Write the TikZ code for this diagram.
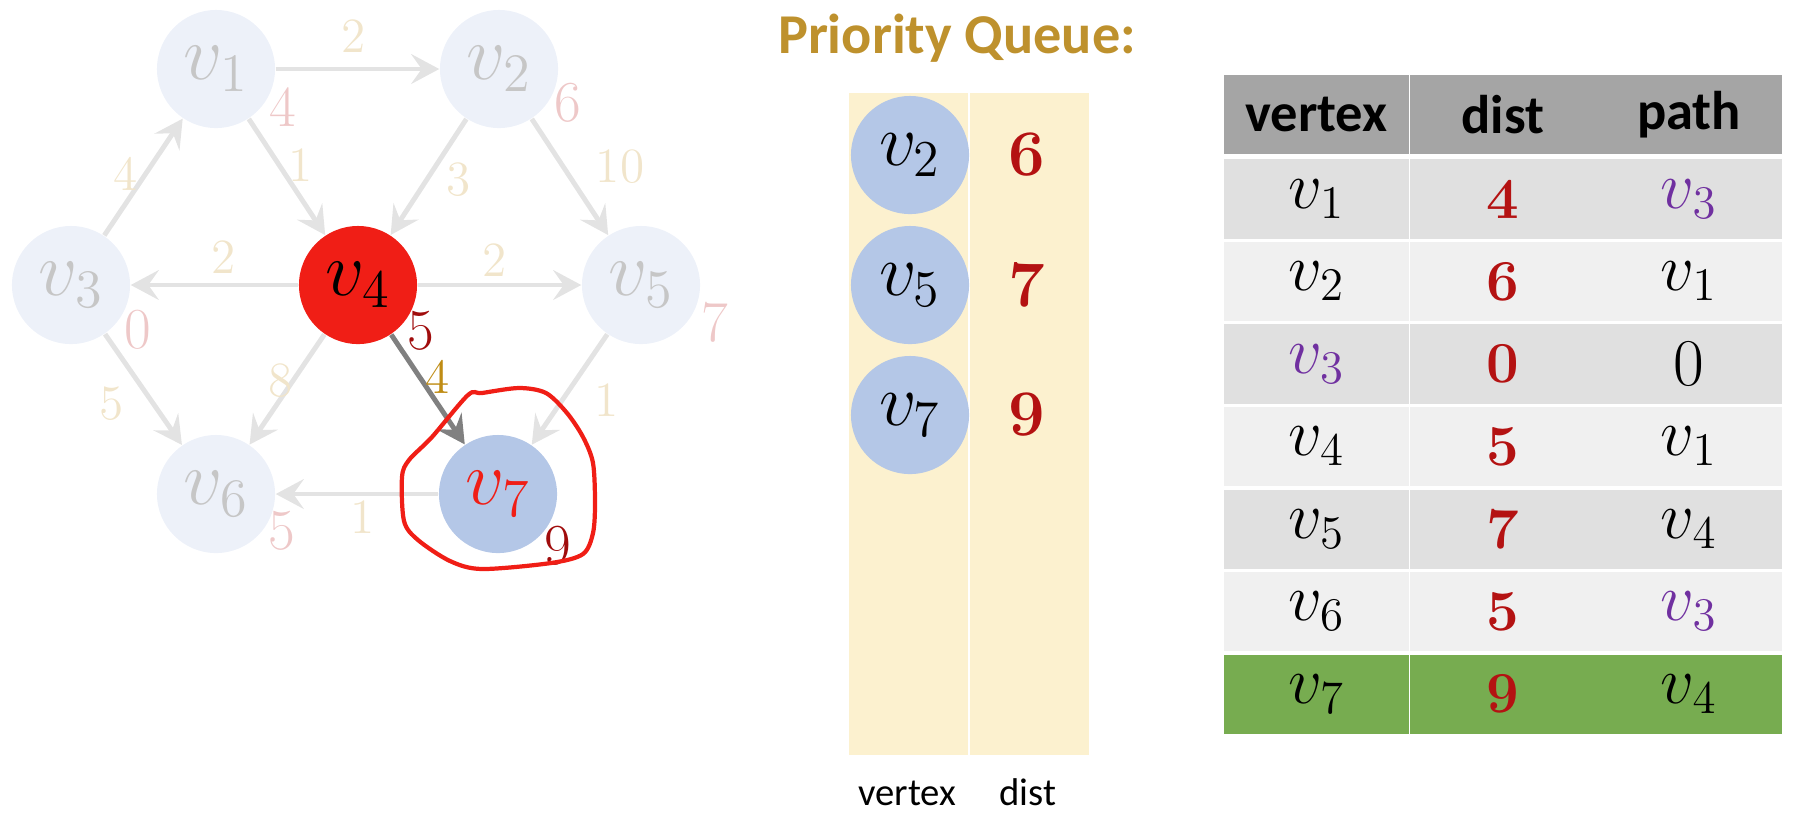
\RequirePackage{fix-cm}
\documentclass[tikz,border=0pt]{standalone}
\usepackage{fontspec}
\setsansfont{Carlito}
\usetikzlibrary{arrows.meta}

\definecolor{nodefade}{RGB}{237,241,249}
\definecolor{textfade}{RGB}{198,198,198}
\definecolor{edgefade}{RGB}{227,227,227}
\definecolor{weightfade}{RGB}{241,229,203}
\definecolor{distfade}{RGB}{238,200,200}
\definecolor{visitred}{RGB}{240,30,22}
\definecolor{queueblue}{RGB}{180,199,231}
\definecolor{distred}{RGB}{180,18,18}
\definecolor{darkdist}{RGB}{160,12,12}
\definecolor{weightgold}{RGB}{191,140,20}
\definecolor{titlegold}{RGB}{190,145,45}
\definecolor{queuebg}{RGB}{252,241,207}
\definecolor{headgray}{RGB}{165,165,165}
\definecolor{rowdark}{RGB}{224,224,224}
\definecolor{rowlight}{RGB}{240,240,240}
\definecolor{rowgreen}{RGB}{119,172,80}
\definecolor{pathpurple}{RGB}{112,48,160}

\begin{document}
\begin{tikzpicture}[x=0.01cm,y=-0.01cm,
    vx/.style={circle,fill=nodefade,text=textfade,minimum size=1.18cm,inner sep=0pt,font=\fontsize{22}{26}\selectfont},
    edge/.style={draw=edgefade,line width=1.4pt,-{Stealth[length=8pt,width=8.5pt,inset=3pt]}},
    wt/.style={text=weightfade,font=\fontsize{14}{16}\selectfont},
    dst/.style={text=distfade,font=\fontsize{16.5}{18}\selectfont},
    qv/.style={circle,fill=queueblue,minimum size=1.18cm,inner sep=0pt,font=\fontsize{21}{24}\selectfont},
    qd/.style={text=distred,font=\fontsize{18.5}{20}\selectfont\bfseries},
    qlabel/.style={anchor=base,font=\sffamily\fontsize{11}{13}\selectfont},
    head/.style={fill=headgray,minimum width=1.85cm,minimum height=0.79cm,inner sep=0pt,font=\sffamily\bfseries\fontsize{15.5}{18}\selectfont},
    cell/.style={minimum width=1.85cm,minimum height=0.79cm,inner sep=0pt,font=\fontsize{19}{22}\selectfont},
    dcell/.style={cell,text=distred,font=\fontsize{16.5}{20}\selectfont\bfseries}
  ]
    \useasboundingbox (0,0) rectangle (1795,817);

    %the graph, all done but v4 and v7
    \node[vx] (v1) at (216,69) {$v_1$};
    \node[vx] (v2) at (499,69) {$v_2$};
    \node[vx] (v3) at (71,285) {$v_3$};
    \node[vx,fill=visitred,text=black] (v4) at (358,285) {$v_4$};
    \node[vx] (v5) at (641,285) {$v_5$};
    \node[vx] (v6) at (216,494) {$v_6$};
    \node[vx,fill=queueblue,text=visitred] (v7) at (498,494) {$v_7$};

    \draw[edge] (v1) -- (v2);
    \draw[edge] (v1) -- (v4);
    \draw[edge] (v2) -- (v4);
    \draw[edge] (v2) -- (v5);
    \draw[edge] (v3) -- (v1);
    \draw[edge] (v4) -- (v3);
    \draw[edge] (v4) -- (v5);
    \draw[edge] (v3) -- (v6);
    \draw[edge] (v4) -- (v6);
    \draw[edge] (v5) -- (v7);
    \draw[edge] (v7) -- (v6);
    \draw[edge,draw=gray] (v4) -- (v7);

    %edge weights
    \node[wt] (w12) at (354,36) {2};
    \node[wt] (w14) at (301,165) {1};
    \node[wt] (w24) at (459,180) {3};
    \node[wt] (w25) at (620,167) {10};
    \node[wt] (w31) at (126,174) {4};
    \node[wt] (w43) at (224,257) {2};
    \node[wt] (w45) at (495,260) {2};
    \node[wt] (w36) at (112,404) {5};
    \node[wt] (w46) at (281,381) {8};
    \node[wt,text=weightgold] (w47) at (438,377) {4};
    \node[wt] (w57) at (607,400) {1};
    \node[wt] (w76) at (363,517) {1};

    %distances
    \node[dst] (d1) at (283,107) {4};
    \node[dst] (d2) at (568,103) {6};
    \node[dst] (d3) at (138,330) {0};
    \node[dst,text=darkdist] (d4) at (421,331) {5};
    \node[dst] (d5) at (715,322) {7};
    \node[dst] (d6) at (282,531) {5};
    \node[dst,text=darkdist] (d7) at (558,546) {9};

    %red loop round v7
    \draw[visitred,line width=1.2pt] plot[smooth cycle] coordinates{(519,388) (546,393) (567,413) (583,437) (593,463) (595,503) (593,533) (583,554) (551,563) (482,569) (450,561) (418,540) (404,521) (402,477) (409,460) (432,437) (468,395) (482,393)};

    %priority queue
    \node[anchor=base,text=titlegold,font=\sffamily\bfseries\fontsize{16}{19}\selectfont] (pq) at (957,53) {Priority Queue:};
    \fill[queuebg] (849,93) rectangle (968,755);
    \fill[queuebg] (970,93) rectangle (1089,755);
    \node[qv] (q2) at (910,155) {$v_2$};
    \node[qv] (q5) at (910,285) {$v_5$};
    \node[qv] (q7) at (910,415) {$v_7$};
    \node[qd] (qd2) at (1027,155) {6};
    \node[qd] (qd5) at (1027,285) {7};
    \node[qd] (qd7) at (1027,415) {9};
    \node[qlabel] (qlv) at (907,805) {vertex};
    \node[qlabel] (qld) at (1028,805) {dist};

    %table
    \node[head] (h1) at (1316.5,114.5) {vertex};
    \node[head] (h2) at (1503,114.5) {dist};
    \node[head] (h3) at (1689,114.5) {path};

    \node[cell,fill=rowdark] (r1a) at (1316.5,199) {$v_1$};
    \node[dcell,fill=rowdark] (r1b) at (1503,199) {4};
    \node[cell,fill=rowdark,text=pathpurple] (r1c) at (1689,199) {$v_3$};

    \node[cell,fill=rowlight] (r2a) at (1316.5,281.5) {$v_2$};
    \node[dcell,fill=rowlight] (r2b) at (1503,281.5) {6};
    \node[cell,fill=rowlight] (r2c) at (1689,281.5) {$v_1$};

    \node[cell,fill=rowdark,text=pathpurple] (r3a) at (1316.5,364) {$v_3$};
    \node[dcell,fill=rowdark] (r3b) at (1503,364) {0};
    \node[cell,fill=rowdark] (r3c) at (1689,364) {0};

    \node[cell,fill=rowlight] (r4a) at (1316.5,446.5) {$v_4$};
    \node[dcell,fill=rowlight] (r4b) at (1503,446.5) {5};
    \node[cell,fill=rowlight] (r4c) at (1689,446.5) {$v_1$};

    \node[cell,fill=rowdark] (r5a) at (1316.5,529) {$v_5$};
    \node[dcell,fill=rowdark] (r5b) at (1503,529) {7};
    \node[cell,fill=rowdark] (r5c) at (1689,529) {$v_4$};

    \node[cell,fill=rowlight] (r6a) at (1316.5,611.5) {$v_6$};
    \node[dcell,fill=rowlight] (r6b) at (1503,611.5) {5};
    \node[cell,fill=rowlight,text=pathpurple] (r6c) at (1689,611.5) {$v_3$};

    \node[cell,fill=rowgreen] (r7a) at (1316.5,694) {$v_7$};
    \node[dcell,fill=rowgreen] (r7b) at (1503,694) {9};
    \node[cell,fill=rowgreen] (r7c) at (1689,694) {$v_4$};
\end{tikzpicture}
\end{document}
